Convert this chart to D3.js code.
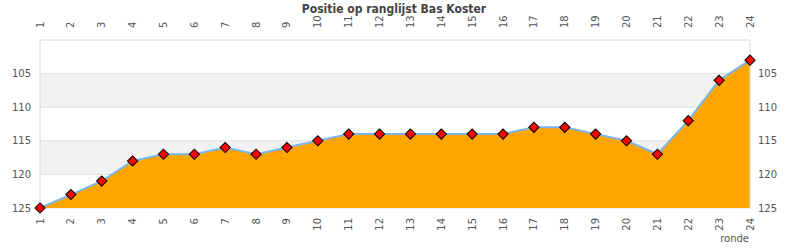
<!DOCTYPE html>
<html>
<head>
<meta charset="utf-8">
<script src="https://cdn.jsdelivr.net/npm/d3@7"></script>
<style>
  body { margin: 0; background: #fff; }
  svg { display: block; font-family: "DejaVu Sans", sans-serif; }
</style>
</head>
<body>
<svg id="chart"></svg>
<script>
// rondes en positie op de ranglijst
const rondes = d3.range(1, 25);
const posities = [125, 123, 121, 118, 117, 117, 116, 117, 116, 115, 114, 114,
                  114, 114, 114, 114, 113, 113, 114, 115, 117, 112, 106, 103];
const yTicks = [105, 110, 115, 120, 125];
const banden = [[105, 110], [115, 120]];
const titel = "Positie op ranglijst Bas Koster";
const xTitel = "ronde";

const width = 790, height = 250;
const m = { top: 40, right: 40, bottom: 42, left: 40 };

const svg = d3.select("#chart").attr("width", width).attr("height", height);

const x = d3.scaleLinear().domain([1, 24]).range([m.left, width - m.right]);
// lagere positie = hoger in de grafiek
const y = d3.scaleLinear().domain([125, 100]).range([height - m.bottom, m.top]);

// grijze banden
svg.selectAll(".band")
  .data(banden)
  .enter()
  .append("rect")
  .attr("x", m.left)
  .attr("width", width - m.left - m.right)
  .attr("y", d => y(d[0]))
  .attr("height", d => y(d[1]) - y(d[0]))
  .attr("fill", "#f2f2f2");

// gridlijnen
svg.selectAll(".grid")
  .data(yTicks)
  .enter()
  .append("line")
  .attr("x1", m.left).attr("x2", width - m.right)
  .attr("y1", d => y(d)).attr("y2", d => y(d))
  .attr("stroke", "#e0e0e0");

const data = rondes.map((r, i) => ({ r: r, p: posities[i] }));

const area = d3.area()
  .x(d => x(d.r))
  .y0(y(125))
  .y1(d => y(d.p));

svg.append("path")
  .datum(data)
  .attr("d", area)
  .attr("fill", "#ffa500");

const line = d3.line().x(d => x(d.r)).y(d => y(d.p));
svg.append("path")
  .datum(data)
  .attr("d", line)
  .attr("fill", "none")
  .attr("stroke", "#7cb5ec")
  .attr("stroke-width", 2);

// rand
svg.append("path")
  .attr("d", `M${m.left},${height - m.bottom}V${m.top}H${width - m.right}V${height - m.bottom}`)
  .attr("fill", "none")
  .attr("stroke", "#d8d8d8");

const diamond = d3.symbol(d3.symbolSquare, 52);
svg.selectAll(".pt")
  .data(data)
  .enter()
  .append("path")
  .attr("d", diamond)
  .attr("transform", d => `translate(${x(d.r)},${y(d.p)}) rotate(45)`)
  .attr("fill", "#ff0000")
  .attr("stroke", "#000")
  .attr("stroke-width", 1);

// x labels boven en onder
const labelKleur = "#555";
svg.selectAll(".xtop")
  .data(rondes)
  .enter()
  .append("text")
  .attr("transform", d => `translate(${x(d)},28) rotate(-90)`)
  .attr("dy", "0.35em")
  .attr("text-anchor", "start")
  .attr("font-size", 10)
  .attr("fill", labelKleur)
  .text(d => d);

svg.selectAll(".xbot")
  .data(rondes)
  .enter()
  .append("text")
  .attr("transform", d => `translate(${x(d)},218) rotate(-90)`)
  .attr("dy", "0.35em")
  .attr("text-anchor", "end")
  .attr("font-size", 10)
  .attr("fill", labelKleur)
  .text(d => d);

// y labels links en rechts
svg.selectAll(".yl")
  .data(yTicks)
  .enter()
  .append("text")
  .attr("x", 31)
  .attr("y", d => y(d))
  .attr("dy", "0.35em")
  .attr("text-anchor", "end")
  .attr("font-size", 10)
  .attr("fill", labelKleur)
  .text(d => d);

svg.selectAll(".yr")
  .data(yTicks)
  .enter()
  .append("text")
  .attr("x", 758)
  .attr("y", d => y(d))
  .attr("dy", "0.35em")
  .attr("text-anchor", "start")
  .attr("font-size", 10)
  .attr("fill", labelKleur)
  .text(d => d);

svg.append("text")
  .attr("x", 749)
  .attr("y", 242)
  .attr("text-anchor", "end")
  .attr("font-size", 10)
  .attr("fill", labelKleur)
  .text(xTitel);

svg.append("text")
  .attr("x", 394)
  .attr("y", 13)
  .attr("text-anchor", "middle")
  .attr("font-family", "'DejaVu Sans Condensed', 'DejaVu Sans', sans-serif")
  .attr("font-size", 12)
  .attr("font-weight", "bold")
  .attr("fill", "#444")
  .text(titel);
</script>
</body>
</html>
